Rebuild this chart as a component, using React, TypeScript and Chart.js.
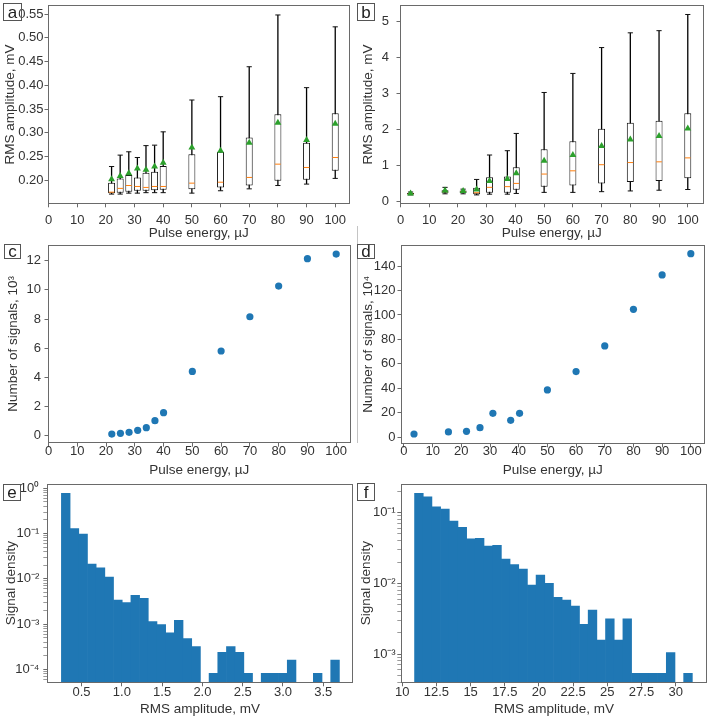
import React, { useEffect, useRef } from 'react';
import { Chart, registerables } from 'chart.js';

Chart.register(...registerables);

const FONT = "'Liberation Sans', Arial, Helvetica, sans-serif";
const TEXT = '#333333';
const FRAME = '#6a6a6a';
const BLACK = '#111111';
const BLUE = '#1f77b4';
const ORANGE = '#ff7f0e';
const GREEN = '#2ca02c';
const TICK_SIZE = 13;
const TITLE_SIZE = 13.5;

// ---------- Panel a: RMS amplitude box plots (mV) ----------
const A_ENERGY = [22, 25, 28, 31, 34, 37, 40, 50, 60, 70, 80, 90, 100];
const A_LOW = [0.171, 0.171, 0.173, 0.173, 0.174, 0.174, 0.174, 0.173, 0.178, 0.182, 0.189, 0.192, 0.204];
const A_Q1 = [0.173, 0.174, 0.176, 0.178, 0.178, 0.179, 0.18, 0.181, 0.185, 0.189, 0.199, 0.201, 0.22];
const A_MED = [0.175, 0.183, 0.189, 0.187, 0.185, 0.187, 0.187, 0.194, 0.196, 0.206, 0.234, 0.227, 0.248];
const A_Q3 = [0.195, 0.204, 0.211, 0.206, 0.216, 0.218, 0.23, 0.255, 0.26, 0.29, 0.339, 0.279, 0.341];
const A_HIGH = [0.229, 0.253, 0.26, 0.248, 0.273, 0.274, 0.302, 0.369, 0.376, 0.439, 0.548, 0.395, 0.523];
const A_MEAN = [0.202, 0.209, 0.215, 0.225, 0.222, 0.229, 0.237, 0.269, 0.262, 0.279, 0.321, 0.285, 0.319];
const A_Y_TICKS = [0.2, 0.25, 0.3, 0.35, 0.4, 0.45, 0.5, 0.55];

// ---------- Panel b ----------
const B_ENERGY = [3.5, 15.5, 21.8, 26.5, 31, 37.2, 40.3, 50, 60, 70, 80, 90, 100];
const B_LOW = [0.17, 0.2, 0.2, 0.17, 0.19, 0.19, 0.21, 0.24, 0.24, 0.26, 0.28, 0.3, 0.32];
const B_Q1 = [0.18, 0.23, 0.23, 0.19, 0.23, 0.23, 0.31, 0.4, 0.43, 0.49, 0.53, 0.56, 0.63];
const B_MED = [0.2, 0.26, 0.26, 0.23, 0.38, 0.4, 0.49, 0.75, 0.84, 1.01, 1.07, 1.09, 1.2];
const B_Q3 = [0.22, 0.3, 0.29, 0.37, 0.66, 0.68, 0.94, 1.44, 1.66, 2.01, 2.18, 2.23, 2.44];
const B_HIGH = [0.25, 0.38, 0.33, 0.6, 1.28, 1.4, 1.88, 3.02, 3.55, 4.27, 4.68, 4.74, 5.19];
const B_MEAN = [0.21, 0.29, 0.28, 0.32, 0.56, 0.61, 0.77, 1.12, 1.28, 1.53, 1.71, 1.81, 2.02];
const B_Y_TICKS = [0, 1, 2, 3, 4, 5];

// ---------- Panel c: number of signals (10^3) ----------
const C_ENERGY = [22, 25, 28, 31, 34, 37, 40, 50, 60, 70, 80, 90, 100];
const C_SIGNALS = [0.11, 0.16, 0.23, 0.37, 0.55, 1.03, 1.58, 4.41, 5.81, 8.16, 10.26, 12.14, 12.46];
const C_Y_TICKS = [0, 2, 4, 6, 8, 10, 12];

// ---------- Panel d: number of signals (10^4) ----------
const D_ENERGY = [3.5, 15.5, 21.8, 26.5, 31, 37.2, 40.3, 50, 60, 70, 80, 90, 100];
const D_SIGNALS = [2.7, 4.4, 4.9, 7.9, 19.6, 13.9, 19.6, 38.7, 53.7, 74.7, 104.6, 132.7, 150.1];
const D_Y_TICKS = [0, 20, 40, 60, 80, 100, 120, 140];

const ENERGY_TICKS = [0, 10, 20, 30, 40, 50, 60, 70, 80, 90, 100];

// ---------- Panel e: histogram, RMS amplitude 0.25..3.70 mV, 32 bins ----------
const E_BIN_START = 0.25;
const E_BIN_END = 3.7;
const E_DENSITY: (number | null)[] = [
  0.776, 0.13, 0.098, 0.0212, 0.0176, 0.011, 0.0034, 0.003, 0.0043, 0.0037, 0.00113, 0.00098,
  0.00064, 0.00121, 0.00048, 0.00032, null, 0.0000813, 0.000237, 0.00032, 0.000237, 0.0000813,
  null, 0.0000813, 0.0000813, 0.0000813, 0.00016, null, null, 0.0000813, null, 0.00016,
];
const E_X_TICKS = [0.5, 1.0, 1.5, 2.0, 2.5, 3.0, 3.5];

// ---------- Panel f: histogram, RMS amplitude 10.9..31.22 mV, 32 bins ----------
const F_BIN_START = 10.9;
const F_BIN_END = 31.22;
const F_DENSITY: (number | null)[] = [
  0.188, 0.168, 0.1216, 0.1127, 0.0762, 0.062, 0.0428, 0.0433, 0.0337, 0.0345, 0.0221, 0.0184,
  0.0159, 0.00947, 0.0131, 0.01, 0.00634, 0.00581, 0.00478, 0.00263, 0.0042, 0.00158, 0.00316,
  0.00158, 0.00316, 0.000532, 0.000532, 0.000532, 0.000532, 0.00105, null, 0.000532,
];
const F_X_TICKS = [10, 12.5, 15, 17.5, 20, 22.5, 25, 27.5, 30];

// ---------- helpers ----------
type Geom = { cx: number; cy: number; cw: number; ch: number; L: number; T: number; R: number; B: number };

const SUP: Record<string, string> = { '-': '⁻', '0': '⁰', '1': '¹', '2': '²', '3': '³', '4': '⁴', '5': '⁵' };
const isPow10 = (v: number) => {
  const e = Math.log10(v);
  return Math.abs(e - Math.round(e)) < 1e-6;
};
const logLabel = (v: number) => {
  if (!isPow10(v)) return '';
  const e = String(Math.round(Math.log10(v)));
  return '10' + e.split('').map((c) => SUP[c]).join('');
};
const logTicks = (min: number, max: number) => {
  const out: number[] = [];
  for (let d = Math.floor(Math.log10(min)); d <= Math.ceil(Math.log10(max)); d++) {
    for (let k = 1; k <= 9; k++) {
      const v = k * Math.pow(10, d);
      if (v >= min && v <= max) out.push(v);
    }
  }
  return out;
};

const alignPx = (p: number) => Math.round(p - 0.5) + 0.5;
const framePlugin = {
  id: 'frame',
  afterDraw(chart: any) {
    const { ctx, chartArea: a } = chart;
    ctx.save();
    ctx.strokeStyle = FRAME;
    ctx.lineWidth = 1;
    const l = alignPx(a.left), t = alignPx(a.top), r = alignPx(a.right), b = alignPx(a.bottom);
    ctx.strokeRect(l, t, r - l, b - t);
    ctx.restore();
  },
};

type AxisOpt = {
  type?: 'linear' | 'logarithmic';
  min: number;
  max: number;
  ticks: number[];
  label: (v: number) => string;
  title: string;
  size: number;
  tickPad: number;
  titlePad: number;
};

function axis(o: AxisOpt, horizontal: boolean) {
  return {
    type: o.type ?? 'linear',
    position: horizontal ? 'bottom' : 'left',
    min: o.min,
    max: o.max,
    bounds: 'data',
    offset: false,
    beginAtZero: false,
    afterBuildTicks: (s: any) => {
      s.ticks = o.ticks.map((v) => ({ value: v }));
    },
    afterFit: (s: any) => {
      if (horizontal) s.height = o.size;
      else s.width = o.size;
      s.paddingTop = 0;
      s.paddingBottom = 0;
      s.paddingLeft = 0;
      s.paddingRight = 0;
    },
    grid: {
      display: true,
      drawOnChartArea: false,
      drawTicks: true,
      tickLength: 4,
      offset: false,
      color: FRAME,
      tickColor: (c: any) =>
        o.type === 'logarithmic' && c.tick && !isPow10(c.tick.value) ? '#9a9a9a' : FRAME,
      tickWidth: 1,
    },
    border: { display: true, color: FRAME, width: 1 },
    ticks: {
      autoSkip: false,
      maxRotation: 0,
      minRotation: 0,
      padding: o.tickPad,
      color: TEXT,
      font: { family: FONT, size: TICK_SIZE },
      callback: (v: any) => o.label(Number(v)),
    },
    title: {
      display: true,
      text: o.title,
      color: TEXT,
      font: { family: FONT, size: TITLE_SIZE },
      padding: horizontal ? { top: 0, bottom: o.titlePad } : { top: o.titlePad, bottom: 0 },
    },
  };
}

function baseOptions(g: Geom, x: any, y: any) {
  return {
    responsive: false,
    maintainAspectRatio: false,
    devicePixelRatio: 1,
    animation: false,
    events: [],
    layout: { padding: { left: 0, top: g.T - g.cy, right: g.cx + g.cw - g.R, bottom: 0 } },
    plugins: { legend: { display: false }, tooltip: { enabled: false }, title: { display: false } },
    scales: { x, y },
  };
}

const pts = (xs: number[], ys: number[]) => xs.map((x, i) => ({ x, y: ys[i] }));

function boxConfig(
  g: Geom,
  e: number[],
  low: number[],
  q1: number[],
  med: number[],
  q3: number[],
  high: number[],
  mean: number[],
  x: any,
  y: any
) {
  return {
    type: 'bar',
    data: {
      datasets: [
        {
          type: 'scatter',
          data: pts(e, mean),
          pointStyle: 'triangle',
          pointRadius: 4,
          pointBackgroundColor: GREEN,
          pointBorderColor: GREEN,
          pointBorderWidth: 0,
          order: 0,
        },
        {
          type: 'scatter',
          data: pts(e, med),
          pointStyle: 'line',
          pointRadius: 2.8,
          pointBorderColor: ORANGE,
          pointBorderWidth: 1,
          order: 1,
        },
        {
          type: 'scatter',
          data: [...pts(e, low), ...pts(e, high)],
          pointStyle: 'line',
          pointRadius: 2.6,
          pointBorderColor: BLACK,
          pointBorderWidth: 1,
          order: 2,
        },
        {
          type: 'bar',
          data: e.map((xv, i) => ({ x: xv, y: [q1[i], q3[i]] })),
          backgroundColor: '#ffffff',
          borderColor: BLACK,
          borderWidth: 1,
          borderSkipped: false,
          inflateAmount: 0,
          barThickness: 7,
          grouped: false,
          order: 3,
        },
        {
          type: 'bar',
          data: e.map((xv, i) => ({ x: xv, y: [low[i], high[i]] })),
          backgroundColor: '#000000',
          borderWidth: 0,
          inflateAmount: 0,
          barThickness: 1.3,
          grouped: false,
          order: 4,
        },
      ],
    },
    options: baseOptions(g, x, y),
    plugins: [framePlugin],
  };
}

function scatterConfig(g: Geom, xs: number[], ys: number[], x: any, y: any) {
  return {
    type: 'scatter',
    data: {
      datasets: [
        {
          data: pts(xs, ys),
          pointRadius: 3.6,
          pointBackgroundColor: BLUE,
          pointBorderColor: BLUE,
          pointBorderWidth: 0,
        },
      ],
    },
    options: baseOptions(g, x, y),
    plugins: [framePlugin],
  };
}

function histConfig(g: Geom, start: number, end: number, dens: (number | null)[], x: any, y: any) {
  const w = (end - start) / dens.length;
  const data = dens
    .map((v, i) => ({ x: start + (i + 0.5) * w, y: v }))
    .filter((p) => p.y !== null);
  return {
    type: 'bar',
    data: {
      datasets: [
        {
          data,
          backgroundColor: BLUE,
          borderWidth: 0,
          barPercentage: 1,
          categoryPercentage: 1,
        },
      ],
    },
    options: baseOptions(g, x, y),
    plugins: [framePlugin],
  };
}

const intLabel = (v: number) => String(Math.round(v));

// ---------- geometry ----------
const GA: Geom = { cx: 0, cy: 0, cw: 354, ch: 242, L: 48.5, T: 5.5, R: 352.7, B: 203.3 };
const GB: Geom = { cx: 354, cy: 0, cw: 354, ch: 242, L: 400.5, T: 5.5, R: 706.7, B: 203.3 };
const GC: Geom = { cx: 0, cy: 230, cw: 354, ch: 250, L: 48.5, T: 245, R: 352.7, B: 442.7 };
const GD: Geom = { cx: 354, cy: 230, cw: 354, ch: 250, L: 401.5, T: 245, R: 706.7, B: 443.3 };
const GE: Geom = { cx: 0, cy: 470, cw: 354, ch: 249, L: 47.3, T: 484, R: 352.7, B: 682.3 };
const GF: Geom = { cx: 354, cy: 470, cw: 354, ch: 249, L: 401.3, T: 484, R: 706.7, B: 682.3 };

const buildA = () =>
  boxConfig(
    GA, A_ENERGY, A_LOW, A_Q1, A_MED, A_Q3, A_HIGH, A_MEAN,
    axis({ min: 0, max: 104.8, ticks: ENERGY_TICKS, label: intLabel, title: 'Pulse energy, µJ', size: GA.ch - GA.B + GA.cy, tickPad: 5, titlePad: 1 }, true),
    axis({ min: 0.1516, max: 0.5679, ticks: A_Y_TICKS, label: (v) => v.toFixed(2), title: 'RMS amplitude, mV', size: GA.L - GA.cx, tickPad: 1, titlePad: 1.7 }, false)
  );

const buildB = () =>
  boxConfig(
    GB, B_ENERGY, B_LOW, B_Q1, B_MED, B_Q3, B_HIGH, B_MEAN,
    axis({ min: 0, max: 105.3, ticks: ENERGY_TICKS, label: intLabel, title: 'Pulse energy, µJ', size: GB.ch - GB.B + GB.cy, tickPad: 5, titlePad: 1 }, true),
    axis({ min: -0.064, max: 5.44, ticks: B_Y_TICKS, label: intLabel, title: 'RMS amplitude, mV', size: GB.L - GB.cx, tickPad: 7.5, titlePad: 6 }, false)
  );

const buildC = () =>
  scatterConfig(
    GC, C_ENERGY, C_SIGNALS,
    axis({ min: 0, max: 104.8, ticks: ENERGY_TICKS, label: intLabel, title: 'Pulse energy, µJ', size: GC.cy + GC.ch - GC.B, tickPad: -3, titlePad: 2 }, true),
    axis({ min: -0.48, max: 13.08, ticks: C_Y_TICKS, label: intLabel, title: 'Number of signals, 10³', size: GC.L - GC.cx, tickPad: 3.6, titlePad: 4.8 }, false)
  );

const buildD = () =>
  scatterConfig(
    GD, D_ENERGY, D_SIGNALS,
    axis({ min: -0.86, max: 104.6, ticks: ENERGY_TICKS, label: intLabel, title: 'Pulse energy, µJ', size: GD.cy + GD.ch - GD.B, tickPad: -3.4, titlePad: 2 }, true),
    axis({ min: -4.9, max: 157.2, ticks: D_Y_TICKS, label: intLabel, title: 'Number of signals, 10⁴', size: GD.L - GD.cx, tickPad: 2, titlePad: 6 }, false)
  );

const E_YMIN = 5.16e-5, E_YMAX = 1.25;
const F_YMIN = 3.98e-4, F_YMAX = 0.255;

const buildE = () =>
  histConfig(
    GE, E_BIN_START, E_BIN_END, E_DENSITY,
    axis({ min: 0.075, max: 3.865, ticks: E_X_TICKS, label: (v) => v.toFixed(1), title: 'RMS amplitude, mV', size: GE.cy + GE.ch - GE.B, tickPad: -2, titlePad: 1.7 }, true),
    axis({ type: 'logarithmic', min: E_YMIN, max: E_YMAX, ticks: logTicks(E_YMIN, E_YMAX), label: logLabel, title: 'Signal density', size: GE.L - GE.cx, tickPad: 4, titlePad: 2.8 }, false)
  );

const buildF = () =>
  histConfig(
    GF, F_BIN_START, F_BIN_END, F_DENSITY,
    axis({ min: 9.93, max: 32.27, ticks: F_X_TICKS, label: (v) => (Number.isInteger(v) ? String(v) : v.toFixed(1)), title: 'RMS amplitude, mV', size: GF.cy + GF.ch - GF.B, tickPad: -2, titlePad: 1.7 }, true),
    axis({ type: 'logarithmic', min: F_YMIN, max: F_YMAX, ticks: logTicks(F_YMIN, F_YMAX), label: logLabel, title: 'Signal density', size: GF.L - GF.cx, tickPad: 1.6, titlePad: 4.5 }, false)
  );

function Panel({ g, build }: { g: Geom; build: () => any }) {
  const ref = useRef<HTMLCanvasElement>(null);
  useEffect(() => {
    if (!ref.current) return;
    const chart = new Chart(ref.current, build());
    return () => chart.destroy();
  }, []);
  return (
    <canvas
      ref={ref}
      width={g.cw}
      height={g.ch}
      style={{ position: 'absolute', left: g.cx, top: g.cy, width: g.cw, height: g.ch }}
    />
  );
}

function Letter({ ch, x, y, w, h }: { ch: string; x: number; y: number; w: number; h: number }) {
  return (
    <div
      style={{
        position: 'absolute',
        left: x,
        top: y,
        width: w,
        height: h,
        boxSizing: 'border-box',
        border: '1px solid #555',
        background: 'transparent',
        display: 'flex',
        alignItems: 'center',
        justifyContent: 'center',
        fontFamily: FONT,
        fontSize: 17,
        lineHeight: 1,
        color: '#222',
        zIndex: 2,
      }}
    >
      {ch}
    </div>
  );
}

export default function App() {
  return (
    <div
      style={{
        position: 'absolute',
        left: 0,
        top: 0,
        width: 708,
        height: 719,
        background: '#ffffff',
        overflow: 'hidden',
      }}
    >
      <div style={{ position: 'absolute', left: 357, top: 226, width: 1, height: 217, background: '#c4c4c4' }} />
      <Panel g={GA} build={buildA} />
      <Panel g={GB} build={buildB} />
      <Panel g={GC} build={buildC} />
      <Panel g={GD} build={buildD} />
      <Panel g={GE} build={buildE} />
      <Panel g={GF} build={buildF} />
      <Letter ch="a" x={3} y={3} w={19} h={18} />
      <Letter ch="b" x={357} y={3} w={18} h={18} />
      <Letter ch="c" x={4} y={244} w={17} h={15} />
      <Letter ch="d" x={357} y={244} w={18} h={15} />
      <Letter ch="e" x={3} y={484} w={18} h={17} />
      <Letter ch="f" x={357} y={483} w={18} h={18} />
    </div>
  );
}
